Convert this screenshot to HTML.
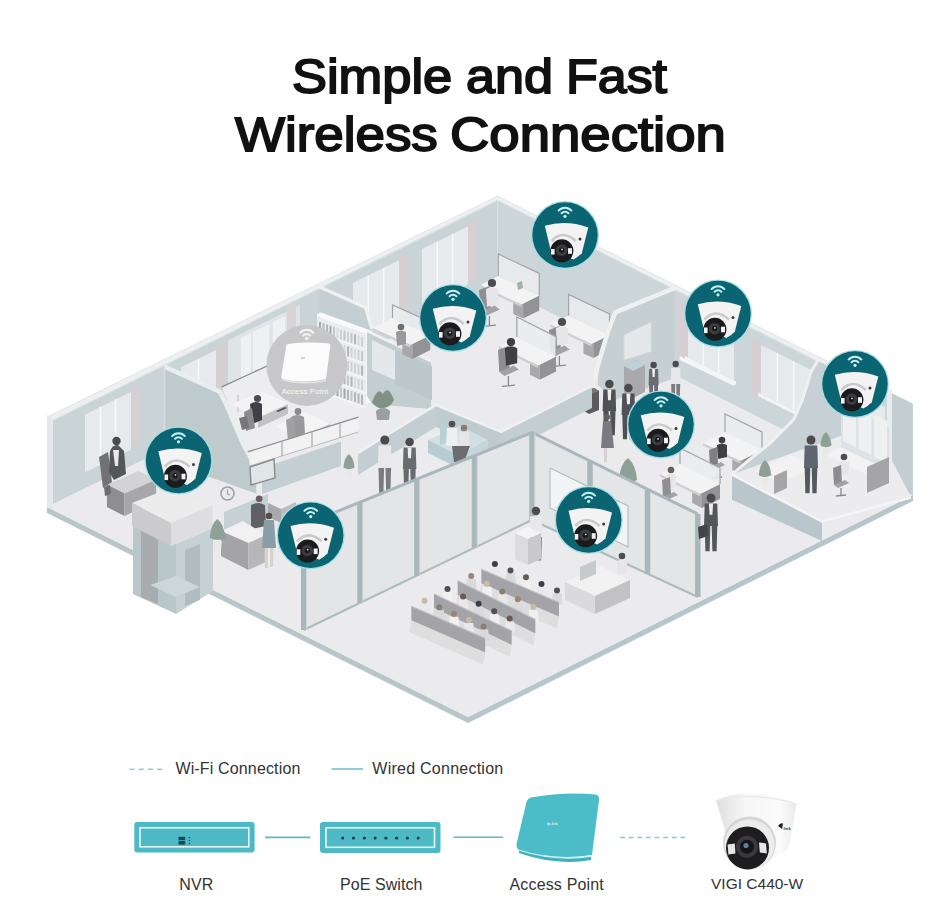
<!DOCTYPE html>
<html><head><meta charset="utf-8">
<style>
html,body{margin:0;padding:0;background:#fff;}
body{width:951px;height:922px;position:relative;overflow:hidden;font-family:"Liberation Sans",sans-serif;}
.w{position:absolute;color:#111;font-size:48px;line-height:56px;-webkit-text-stroke:1.8px #111;white-space:nowrap;transform-origin:0 0;}
svg{position:absolute;left:0;top:0;}
.lab{position:absolute;font-size:15.5px;color:#333;white-space:nowrap;line-height:18px;}
</style></head><body>
<svg width="951" height="922" viewBox="0 0 951 922">
<polygon points="47.0,507.0 468.0,717.0 913.0,495.0 913.0,501.0 468.0,723.0 47.0,513.0" fill="#b8c6c9"/>
<polygon points="47.0,507.0 497.5,286.0 913.0,495.0 468.0,717.0" fill="#ebebee"/>
<polygon points="47.0,417.0 497.5,196.0 497.5,286.0 47.0,507.0" fill="#cad3d6"/>
<polygon points="497.5,196.0 913.0,404.0 913.0,495.0 497.5,286.0" fill="#ccd5d8"/>
<polygon points="85.0,414.4 131.0,391.8 131.0,449.8 85.0,472.4" fill="#e6eaec"/>
<polyline points="100.3,406.8 100.3,464.8" fill="none" stroke="#f7f8f9" stroke-width="1.5"/>
<polyline points="115.7,399.3 115.7,457.3" fill="none" stroke="#f7f8f9" stroke-width="1.5"/>
<polygon points="131.0,389.8 140.0,385.4 140.0,443.4 131.0,447.8" fill="#d6d0d2"/>
<polygon points="181.0,367.3 216.0,350.1 216.0,408.1 181.0,425.3" fill="#e6eaec"/>
<polyline points="198.5,358.7 198.5,416.7" fill="none" stroke="#f7f8f9" stroke-width="1.5"/>
<polygon points="216.0,348.1 225.0,343.7 225.0,401.7 216.0,406.1" fill="#d6d0d2"/>
<polygon points="239.0,338.8 286.0,315.8 286.0,373.8 239.0,396.8" fill="#e6eaec"/>
<polyline points="254.7,331.1 254.7,389.1" fill="none" stroke="#f7f8f9" stroke-width="1.5"/>
<polyline points="270.3,323.4 270.3,381.4" fill="none" stroke="#f7f8f9" stroke-width="1.5"/>
<polygon points="286.0,313.8 295.0,309.3 295.0,367.3 286.0,371.8" fill="#d6d0d2"/>
<polygon points="353.0,282.9 399.0,260.3 399.0,318.3 353.0,340.9" fill="#e6eaec"/>
<polyline points="368.3,275.4 368.3,333.4" fill="none" stroke="#f7f8f9" stroke-width="1.5"/>
<polyline points="383.7,267.8 383.7,325.8" fill="none" stroke="#f7f8f9" stroke-width="1.5"/>
<polygon points="399.0,258.3 408.0,253.9 408.0,311.9 399.0,316.3" fill="#d6d0d2"/>
<polygon points="422.0,249.0 468.0,226.5 468.0,284.5 422.0,307.0" fill="#e6eaec"/>
<polyline points="437.3,241.5 437.3,299.5" fill="none" stroke="#f7f8f9" stroke-width="1.5"/>
<polyline points="452.7,234.0 452.7,292.0" fill="none" stroke="#f7f8f9" stroke-width="1.5"/>
<polygon points="468.0,224.5 477.0,220.1 477.0,278.1 468.0,282.5" fill="#d6d0d2"/>
<polygon points="688.0,308.4 734.0,331.4 734.0,380.4 688.0,357.4" fill="#e6eaec"/>
<polyline points="703.3,316.0 703.3,365.0" fill="none" stroke="#f7f8f9" stroke-width="1.5"/>
<polyline points="718.7,323.7 718.7,372.7" fill="none" stroke="#f7f8f9" stroke-width="1.5"/>
<polygon points="678.0,300.4 688.0,305.4 688.0,361.4 678.0,356.4" fill="#d6d0d2"/>
<polygon points="685.0,355.9 736.0,381.4 736.0,384.9 685.0,359.4" fill="#f3f4f5"/>
<polygon points="761.0,344.9 810.0,369.4 810.0,418.4 761.0,393.9" fill="#e6eaec"/>
<polyline points="777.3,353.1 777.3,402.1" fill="none" stroke="#f7f8f9" stroke-width="1.5"/>
<polyline points="793.7,361.3 793.7,410.3" fill="none" stroke="#f7f8f9" stroke-width="1.5"/>
<polygon points="751.0,336.9 761.0,341.9 761.0,397.9 751.0,392.9" fill="#d6d0d2"/>
<polygon points="758.0,392.4 812.0,419.4 812.0,422.9 758.0,395.9" fill="#f3f4f5"/>
<polygon points="840.0,384.5 885.0,407.0 885.0,456.0 840.0,433.5" fill="#e6eaec"/>
<polyline points="855.0,392.0 855.0,441.0" fill="none" stroke="#f7f8f9" stroke-width="1.5"/>
<polyline points="870.0,399.5 870.0,448.5" fill="none" stroke="#f7f8f9" stroke-width="1.5"/>
<polygon points="830.0,376.5 840.0,381.5 840.0,437.5 830.0,432.5" fill="#d6d0d2"/>
<polygon points="837.0,432.0 887.0,457.0 887.0,460.5 837.0,435.5" fill="#f3f4f5"/>
<polygon points="47.0,417.0 497.5,196.0 913.0,404.0 913.0,409.0 497.5,200.0 51.0,421.0" fill="#edf0f1"/>
<polyline points="51.0,421.5 497.5,200.5 913.0,409.5" fill="none" stroke="#dde3e5" stroke-width="1"/>
<polyline points="47.0,417.0 497.5,196.0 913.0,404.0" fill="none" stroke="#e2e6e8" stroke-width="0.8"/>
<polygon points="47.0,415.0 53.0,418.0 53.0,510.0 47.0,507.0" fill="#e3e8ea"/>
<polygon points="889.0,392.0 913.0,404.0 913.0,495.0 889.0,484.0" fill="#c3ced2"/>
<polygon points="887.0,391.0 892.0,389.0 892.0,485.0 887.0,487.0" fill="#e8eced"/>
<polygon points="106.9,484.5 138.4,471.0 156.1,479.8 124.5,493.4" fill="#d3d3d5"/>
<polygon points="106.9,484.5 124.5,493.4 124.5,516.0 106.9,507.0" fill="#8e8e91"/>
<polygon points="124.5,493.4 156.1,479.8 156.1,501.0 124.5,516.0" fill="#a7a7aa"/>
<polygon points="99.0,457.0 108.0,452.0 112.0,482.0 103.0,488.0" fill="#727276"/>
<path d="M110,451 Q113,444 118,445 L124,451 L126,474 L114,480 L109,472 Z" fill="#55565a"/>
<circle cx="116.5" cy="441.0" r="4.2" fill="#4a4a4d"/>
<polygon points="113.0,450.0 119.0,450.0 118.0,466.0 115.0,466.0" fill="#e8e8ea"/>
<polygon points="104.0,487.0 110.0,485.0 111.0,494.0 105.0,496.0" fill="#6e6e72"/>
<polygon points="164.4,366.6 219.8,391.6 226.0,404.0 235.0,425.0 244.0,446.0 253.0,461.5 256.3,469.0 256.3,493.6 164.4,461.0" fill="#bfcacd"/>
<polyline points="164.4,366.6 219.8,391.6 226.0,404.0 235.0,425.0 244.0,446.0 253.0,461.5 256.3,469.0" fill="none" stroke="#e9edee" stroke-width="4.5"/>
<polyline points="164.4,366.6 164.4,457.0" fill="none" stroke="#d7dfe2" stroke-width="1.5"/>
<polygon points="133.0,526.0 176.0,544.0 176.0,614.0 133.0,594.0" fill="#b9c6ca"/>
<polygon points="176.0,544.0 213.0,528.0 213.0,591.0 176.0,614.0" fill="#c6d1d4"/>
<polygon points="141.0,529.0 158.0,536.0 158.0,604.0 141.0,597.0" fill="#a9acae"/>
<polygon points="185.0,550.0 200.0,544.0 200.0,600.0 185.0,606.0" fill="#b0bcc0"/>
<polygon points="150.0,585.0 176.0,597.0 200.0,587.0 176.0,576.0" fill="#cdd6d9"/>
<polygon points="132.0,503.0 168.0,489.0 212.5,505.0 171.0,523.0" fill="#ececed"/>
<polygon points="132.0,503.0 171.0,523.0 171.0,546.0 132.0,526.0" fill="#cbcbcd"/>
<polygon points="171.0,523.0 212.5,505.0 212.5,528.0 171.0,546.0" fill="#dedee0"/>
<polygon points="228.0,340.2 300.0,304.9 300.0,370.9 228.0,406.2" fill="#dfe4e6"/>
<polygon points="240.8,337.9 251.2,332.8 251.2,388.8 240.8,393.9" fill="#eef0f1"/>
<polygon points="252.8,332.0 269.2,324.0 269.2,380.0 252.8,388.0" fill="#eef0f1"/>
<polygon points="272.8,322.2 285.2,316.1 285.2,372.1 272.8,378.2" fill="#eef0f1"/>
<polygon points="287.0,307.3 296.0,302.8 296.0,374.8 287.0,379.3" fill="#d8d2d4"/>
<polygon points="222.0,388.0 300.0,352.0 372.0,384.0 358.0,417.0 248.0,452.0" fill="#ededef"/>
<polyline points="221.7,386.8 269.4,365.0 300.0,352.0" fill="none" stroke="#8d8d90" stroke-width="1.3"/>
<polyline points="238.0,412.0 238.0,395.0" fill="none" stroke="#b5b5b8" stroke-width="1"/>
<polygon points="232.0,404.0 262.0,391.0 288.0,404.0 258.0,418.0" fill="#f4f4f5"/>
<polygon points="258.0,418.0 288.0,404.0 288.0,414.0 258.0,428.0" fill="#c3c3c6"/>
<polygon points="275.0,426.0 305.0,412.0 330.0,424.0 300.0,438.0" fill="#f4f4f5"/>
<polygon points="300.0,438.0 330.0,424.0 330.0,433.0 300.0,447.0" fill="#c3c3c6"/>
<circle cx="257.5" cy="398.5" r="3.6" fill="#4c4c50"/>
<path d="M250,404 Q256,400 262,404 L262,420 L252,424 Z" fill="#3f4044"/>
<polygon points="244.0,412.0 252.0,408.0 255.0,428.0 246.0,431.0" fill="#8c8c90"/>
<polygon points="239.0,418.0 247.0,416.0 249.0,428.0 242.0,430.0" fill="#77777b"/>
<circle cx="298.0" cy="411.5" r="3.4" fill="#8a8a8d"/>
<path d="M291,417 Q297,413 304,417 L305,433 L294,438 Z" fill="#99999c"/>
<polygon points="286.0,420.0 294.0,416.0 296.0,438.0 288.0,441.0" fill="#a0a0a3"/>
<polygon points="276.0,411.0 285.0,407.0 287.0,408.0 278.0,412.0" fill="#555"/>
<polygon points="247.7,451.8 358.4,417.1 358.4,432.0 250.0,466.0" fill="#f2f2f3"/>
<polyline points="247.7,451.8 358.4,417.1" fill="none" stroke="#8f8f92" stroke-width="1.3"/>
<polyline points="250.0,466.0 358.4,432.0" fill="none" stroke="#b9b9bc" stroke-width="1"/>
<polyline points="282.0,441.0 282.0,456.0" fill="none" stroke="#a9a9ac" stroke-width="1.2"/>
<polyline points="312.0,431.6 312.0,446.6" fill="none" stroke="#a9a9ac" stroke-width="1.2"/>
<polyline points="340.0,422.9 340.0,437.9" fill="none" stroke="#a9a9ac" stroke-width="1.2"/>
<polygon points="262.0,468.0 341.0,441.5 341.0,466.0 262.0,494.0" fill="#c4cfd3"/>
<polygon points="250.0,467.0 274.0,459.0 275.0,478.0 251.0,485.0" fill="#dfe6e8"/>
<polyline points="250.0,467.0 274.0,459.0 275.0,478.0 251.0,485.0 250.0,467.0" fill="none" stroke="#8a8a8e" stroke-width="1.4"/>
<polygon points="319.6,288.0 365.6,308.5 372.0,330.0 372.0,390.0 319.6,365.0" fill="#c5cfd3"/>
<polyline points="319.6,287.0 365.6,307.5 372.0,329.0" fill="none" stroke="#eef1f2" stroke-width="3.5"/>
<polygon points="317.0,314.0 321.0,312.5 372.0,331.0 366.0,334.0 317.0,317.0" fill="#fafafa"/>
<polygon points="317.0,317.0 366.0,334.0 366.0,404.0 317.0,390.0" fill="#eaecee"/>
<polygon points="366.0,334.0 372.0,331.0 372.0,402.0 366.0,404.0" fill="#f6f7f8"/>
<polyline points="320.0,322.1 320.0,332.1" fill="none" stroke="#a4a8ac" stroke-width="2"/>
<polyline points="323.5,323.3 323.5,333.3" fill="none" stroke="#b2b6ba" stroke-width="2"/>
<polyline points="327.0,324.5 327.0,334.5" fill="none" stroke="#b2b6ba" stroke-width="2"/>
<polyline points="330.5,325.7 330.5,335.7" fill="none" stroke="#a4a8ac" stroke-width="2"/>
<polyline points="334.0,326.9 334.0,336.9" fill="none" stroke="#c4c7ca" stroke-width="2"/>
<polyline points="337.5,328.2 337.5,338.2" fill="none" stroke="#d8dadc" stroke-width="2"/>
<polyline points="341.0,329.4 341.0,339.4" fill="none" stroke="#d0d2d5" stroke-width="2"/>
<polyline points="344.5,330.6 344.5,340.6" fill="none" stroke="#c4c7ca" stroke-width="2"/>
<polyline points="348.0,331.9 348.0,341.9" fill="none" stroke="#d0d2d5" stroke-width="2"/>
<polyline points="351.5,333.1 351.5,343.1" fill="none" stroke="#c4c7ca" stroke-width="2"/>
<polyline points="355.0,334.3 355.0,344.3" fill="none" stroke="#b2b6ba" stroke-width="2"/>
<polyline points="358.5,335.5 358.5,345.5" fill="none" stroke="#d8dadc" stroke-width="2"/>
<polyline points="362.0,336.8 362.0,346.8" fill="none" stroke="#d0d2d5" stroke-width="2"/>
<polyline points="317.0,332.5 366.0,349.5" fill="none" stroke="#f4f5f6" stroke-width="1.5"/>
<polyline points="320.0,336.6 320.0,346.6" fill="none" stroke="#d8dadc" stroke-width="2"/>
<polyline points="323.5,337.8 323.5,347.8" fill="none" stroke="#a4a8ac" stroke-width="2"/>
<polyline points="327.0,339.0 327.0,349.0" fill="none" stroke="#c4c7ca" stroke-width="2"/>
<polyline points="330.5,340.2 330.5,350.2" fill="none" stroke="#a4a8ac" stroke-width="2"/>
<polyline points="334.0,341.4 334.0,351.4" fill="none" stroke="#d0d2d5" stroke-width="2"/>
<polyline points="337.5,342.7 337.5,352.7" fill="none" stroke="#c4c7ca" stroke-width="2"/>
<polyline points="341.0,343.9 341.0,353.9" fill="none" stroke="#d0d2d5" stroke-width="2"/>
<polyline points="344.5,345.1 344.5,355.1" fill="none" stroke="#d8dadc" stroke-width="2"/>
<polyline points="348.0,346.4 348.0,356.4" fill="none" stroke="#b2b6ba" stroke-width="2"/>
<polyline points="351.5,347.6 351.5,357.6" fill="none" stroke="#d0d2d5" stroke-width="2"/>
<polyline points="355.0,348.8 355.0,358.8" fill="none" stroke="#d8dadc" stroke-width="2"/>
<polyline points="358.5,350.0 358.5,360.0" fill="none" stroke="#d0d2d5" stroke-width="2"/>
<polyline points="362.0,351.2 362.0,361.2" fill="none" stroke="#c4c7ca" stroke-width="2"/>
<polyline points="317.0,347.0 366.0,364.0" fill="none" stroke="#f4f5f6" stroke-width="1.5"/>
<polyline points="320.0,351.1 320.0,361.1" fill="none" stroke="#d0d2d5" stroke-width="2"/>
<polyline points="323.5,352.3 323.5,362.3" fill="none" stroke="#a4a8ac" stroke-width="2"/>
<polyline points="327.0,353.5 327.0,363.5" fill="none" stroke="#a4a8ac" stroke-width="2"/>
<polyline points="330.5,354.7 330.5,364.7" fill="none" stroke="#d8dadc" stroke-width="2"/>
<polyline points="334.0,355.9 334.0,365.9" fill="none" stroke="#d0d2d5" stroke-width="2"/>
<polyline points="337.5,357.2 337.5,367.2" fill="none" stroke="#d0d2d5" stroke-width="2"/>
<polyline points="341.0,358.4 341.0,368.4" fill="none" stroke="#c4c7ca" stroke-width="2"/>
<polyline points="344.5,359.6 344.5,369.6" fill="none" stroke="#c4c7ca" stroke-width="2"/>
<polyline points="348.0,360.9 348.0,370.9" fill="none" stroke="#d0d2d5" stroke-width="2"/>
<polyline points="351.5,362.1 351.5,372.1" fill="none" stroke="#d0d2d5" stroke-width="2"/>
<polyline points="355.0,363.3 355.0,373.3" fill="none" stroke="#d0d2d5" stroke-width="2"/>
<polyline points="358.5,364.5 358.5,374.5" fill="none" stroke="#d0d2d5" stroke-width="2"/>
<polyline points="362.0,365.8 362.0,375.8" fill="none" stroke="#b2b6ba" stroke-width="2"/>
<polyline points="317.0,361.5 366.0,378.5" fill="none" stroke="#f4f5f6" stroke-width="1.5"/>
<polyline points="320.0,365.6 320.0,375.6" fill="none" stroke="#b2b6ba" stroke-width="2"/>
<polyline points="323.5,366.8 323.5,376.8" fill="none" stroke="#d0d2d5" stroke-width="2"/>
<polyline points="327.0,368.0 327.0,378.0" fill="none" stroke="#a4a8ac" stroke-width="2"/>
<polyline points="330.5,369.2 330.5,379.2" fill="none" stroke="#d0d2d5" stroke-width="2"/>
<polyline points="334.0,370.4 334.0,380.4" fill="none" stroke="#d0d2d5" stroke-width="2"/>
<polyline points="337.5,371.7 337.5,381.7" fill="none" stroke="#d0d2d5" stroke-width="2"/>
<polyline points="341.0,372.9 341.0,382.9" fill="none" stroke="#d8dadc" stroke-width="2"/>
<polyline points="344.5,374.1 344.5,384.1" fill="none" stroke="#b2b6ba" stroke-width="2"/>
<polyline points="348.0,375.4 348.0,385.4" fill="none" stroke="#c4c7ca" stroke-width="2"/>
<polyline points="351.5,376.6 351.5,386.6" fill="none" stroke="#b2b6ba" stroke-width="2"/>
<polyline points="355.0,377.8 355.0,387.8" fill="none" stroke="#d8dadc" stroke-width="2"/>
<polyline points="358.5,379.0 358.5,389.0" fill="none" stroke="#d0d2d5" stroke-width="2"/>
<polyline points="362.0,380.2 362.0,390.2" fill="none" stroke="#d0d2d5" stroke-width="2"/>
<polyline points="317.0,376.0 366.0,393.0" fill="none" stroke="#f4f5f6" stroke-width="1.5"/>
<polyline points="320.0,380.1 320.0,390.1" fill="none" stroke="#b2b6ba" stroke-width="2"/>
<polyline points="323.5,381.3 323.5,391.3" fill="none" stroke="#c4c7ca" stroke-width="2"/>
<polyline points="327.0,382.5 327.0,392.5" fill="none" stroke="#b2b6ba" stroke-width="2"/>
<polyline points="330.5,383.7 330.5,393.7" fill="none" stroke="#b2b6ba" stroke-width="2"/>
<polyline points="334.0,384.9 334.0,394.9" fill="none" stroke="#a4a8ac" stroke-width="2"/>
<polyline points="337.5,386.2 337.5,396.2" fill="none" stroke="#a4a8ac" stroke-width="2"/>
<polyline points="341.0,387.4 341.0,397.4" fill="none" stroke="#c4c7ca" stroke-width="2"/>
<polyline points="344.5,388.6 344.5,398.6" fill="none" stroke="#a4a8ac" stroke-width="2"/>
<polyline points="348.0,389.9 348.0,399.9" fill="none" stroke="#b2b6ba" stroke-width="2"/>
<polyline points="351.5,391.1 351.5,401.1" fill="none" stroke="#c4c7ca" stroke-width="2"/>
<polyline points="355.0,392.3 355.0,402.3" fill="none" stroke="#b2b6ba" stroke-width="2"/>
<polyline points="358.5,393.5 358.5,403.5" fill="none" stroke="#b2b6ba" stroke-width="2"/>
<polyline points="362.0,394.8 362.0,404.8" fill="none" stroke="#b2b6ba" stroke-width="2"/>
<polyline points="317.0,390.5 366.0,407.5" fill="none" stroke="#f4f5f6" stroke-width="1.5"/>
<polygon points="367.0,331.0 431.0,361.0 431.0,409.0 372.0,404.0 367.0,396.0" fill="#c3ced1"/>
<polygon points="372.0,340.0 395.0,351.0 395.0,380.0 372.0,370.0" fill="#e3e8ea"/>
<polyline points="367.0,331.0 431.0,361.0" fill="none" stroke="#eef1f2" stroke-width="3"/>
<ellipse cx="383.0" cy="412.0" rx="7.0" ry="4.0" fill="#9aa3a0"/>
<polygon points="376.0,411.0 390.0,411.0 389.0,420.0 377.0,420.0" fill="#9aa0a2"/>
<path d="M372,402 Q378,386 383,394 Q388,384 394,400 Q390,408 383,408 Q376,409 372,402 Z" fill="#7f9283"/>
<polygon points="395.3,349.8 432.0,366.0 432.0,400.0 395.3,384.0" fill="#bcc8cc"/>
<polygon points="402.3,339.5 412.3,344.0 412.3,359.0 402.3,354.5" fill="#a9a9ac"/>
<polygon points="412.3,344.0 430.3,335.0 430.3,350.0 412.3,359.0" fill="#939397"/>
<polygon points="392.5,318.0 430.3,335.0 410.3,345.0 372.5,328.0" fill="#f3f3f4"/>
<polygon points="372.5,328.0 410.3,345.0 410.3,347.5 372.5,330.5" fill="#cfcfd2"/>
<polygon points="392.5,305.0 430.3,322.0 430.3,335.0 392.5,318.0" fill="#e9ecee" opacity="0.92"/>
<polyline points="392.5,318.0 392.5,305.0 430.3,322.0 430.3,335.0" fill="none" stroke="#a3a4a7" stroke-width="1.2"/>
<circle cx="401.0" cy="327.0" r="3.3" fill="#6f6f72"/>
<path d="M396.0,332.0 Q401.0,329.0 406.0,332.0 L406.0,344.0 L397.0,346.0 Z" fill="#9a9a9d"/>
<polygon points="513.2,298.9 523.1,303.6 523.1,318.6 513.2,313.9" fill="#a9a9ac"/>
<polygon points="523.1,303.6 539.3,295.5 539.3,310.5 523.1,318.6" fill="#939397"/>
<polygon points="498.3,276.0 539.3,295.5 521.3,304.5 480.3,285.0" fill="#f3f3f4"/>
<polygon points="480.3,285.0 521.3,304.5 521.3,307.0 480.3,287.5" fill="#cfcfd2"/>
<polygon points="498.3,254.0 539.3,273.5 539.3,295.5 498.3,276.0" fill="#e9ecee" opacity="0.92"/>
<polyline points="498.3,276.0 498.3,254.0 539.3,273.5 539.3,295.5" fill="none" stroke="#a3a4a7" stroke-width="1.2"/>
<polygon points="479.0,290.0 489.4,286.1 490.7,308.2 480.3,312.1" fill="#8e8e92"/>
<polygon points="480.3,312.1 494.6,305.6 499.8,309.5 485.5,316.0" fill="#a2a2a5"/>
<polyline points="489.4,316.0 489.4,325.1" fill="none" stroke="#8a8a8d" stroke-width="1.3"/>
<polyline points="482.9,326.4 495.9,325.1" fill="none" stroke="#8a8a8d" stroke-width="1.3"/>
<circle cx="492.0" cy="283.0" r="4.1" fill="#4d4d50"/>
<path d="M485.8,289.2 Q492.0,285.5 498.2,289.2 L498.2,304.2 L487.0,306.8 Z" fill="#e6e6e8"/>
<polygon points="517.0,283.0 522.0,281.0 523.0,288.0 518.0,290.0" fill="#a2b1a6"/>
<polygon points="583.4,338.4 593.3,343.1 593.3,358.1 583.4,353.4" fill="#a9a9ac"/>
<polygon points="593.3,343.1 609.5,335.0 609.5,350.0 593.3,358.1" fill="#939397"/>
<polygon points="568.6,315.5 609.5,335.0 591.5,344.0 550.6,324.5" fill="#f3f3f4"/>
<polygon points="550.6,324.5 591.5,344.0 591.5,346.5 550.6,327.0" fill="#cfcfd2"/>
<polygon points="568.6,294.5 609.5,314.0 609.5,335.0 568.6,315.5" fill="#e9ecee" opacity="0.92"/>
<polyline points="568.6,315.5 568.6,294.5 609.5,314.0 609.5,335.0" fill="none" stroke="#a3a4a7" stroke-width="1.2"/>
<polygon points="549.0,330.0 559.4,326.1 560.7,348.2 550.3,352.1" fill="#8e8e92"/>
<polygon points="550.3,352.1 564.6,345.6 569.8,349.5 555.5,356.0" fill="#a2a2a5"/>
<polyline points="559.4,356.0 559.4,365.1" fill="none" stroke="#8a8a8d" stroke-width="1.3"/>
<polyline points="552.9,366.4 565.9,365.1" fill="none" stroke="#8a8a8d" stroke-width="1.3"/>
<circle cx="562.0" cy="322.0" r="4.1" fill="#4d4d50"/>
<path d="M555.8,328.2 Q562.0,324.5 568.2,328.2 L568.2,343.2 L557.0,345.8 Z" fill="#e6e6e8"/>
<polygon points="530.0,359.8 539.8,364.7 539.8,379.7 530.0,374.8" fill="#a9a9ac"/>
<polygon points="539.8,364.7 556.0,356.6 556.0,371.6 539.8,379.7" fill="#939397"/>
<polygon points="516.8,337.0 556.0,356.6 538.0,365.6 498.8,346.0" fill="#f3f3f4"/>
<polygon points="498.8,346.0 538.0,365.6 538.0,368.1 498.8,348.5" fill="#cfcfd2"/>
<polygon points="516.8,317.0 556.0,336.6 556.0,356.6 516.8,337.0" fill="#e9ecee" opacity="0.92"/>
<polyline points="516.8,337.0 516.8,317.0 556.0,336.6 556.0,356.6" fill="none" stroke="#a3a4a7" stroke-width="1.2"/>
<polygon points="498.0,350.0 508.4,346.1 509.7,368.2 499.3,372.1" fill="#8e8e92"/>
<polygon points="499.3,372.1 513.6,365.6 518.8,369.5 504.5,376.0" fill="#a2a2a5"/>
<polyline points="508.4,376.0 508.4,385.1" fill="none" stroke="#8a8a8d" stroke-width="1.3"/>
<polyline points="501.9,386.4 514.9,385.1" fill="none" stroke="#8a8a8d" stroke-width="1.3"/>
<circle cx="511.0" cy="342.0" r="4.1" fill="#3f4044"/>
<path d="M504.8,348.2 Q511.0,344.5 517.2,348.2 L517.2,363.2 L506.0,365.8 Z" fill="#3f4044"/>
<polygon points="615.4,312.3 673.2,288.3 674.6,289.0 674.6,378.0 615.0,400.0 598.0,385.0 597.0,368.7 602.7,349.0 608.3,330.6" fill="#c6d0d3"/>
<polyline points="674.6,288.0 615.4,312.3 608.3,330.6 602.7,349.0 597.0,368.7 595.0,380.0" fill="none" stroke="#eef1f2" stroke-width="4.5"/>
<polygon points="623.8,334.9 651.4,321.5 651.4,351.8 623.8,360.3" fill="#e5e8ea"/>
<polyline points="623.8,334.9 651.4,321.5 651.4,351.8 623.8,360.3 623.8,334.9" fill="none" stroke="#cfd4d6" stroke-width="1"/>
<polygon points="584.0,392.0 594.0,388.0 599.0,391.0 599.0,410.0 589.0,414.0 584.0,411.0" fill="#5b5b5e"/>
<polygon points="584.0,392.0 594.0,388.0 599.0,391.0 589.0,395.0" fill="#77777a"/>
<polygon points="624.0,366.0 636.0,360.0 645.0,365.0 645.0,392.0 633.0,398.0 624.0,393.0" fill="#a9a9ac"/>
<polygon points="624.0,366.0 636.0,360.0 645.0,365.0 633.0,371.0" fill="#bcd1d8"/>
<circle cx="609.4" cy="384.0" r="4.3" fill="#4b4b4f"/>
<polygon points="603.3,389.4 615.5,389.4 616.1,411.0 602.6,411.0" fill="#505156"/>
<polygon points="607.4,389.4 611.4,389.4 610.8,400.2 608.0,400.2" fill="#eeeeee"/>
<polygon points="603.3,411.0 608.7,411.0 608.0,435.3 604.0,435.3" fill="#505156"/>
<polygon points="610.1,411.0 615.5,411.0 614.8,435.3 610.8,435.3" fill="#505156"/>
<circle cx="628.4" cy="388.0" r="4.3" fill="#4b4b4f"/>
<polygon points="622.3,393.4 634.5,393.4 635.1,415.0 621.6,415.0" fill="#505156"/>
<polygon points="626.4,393.4 630.4,393.4 629.8,404.2 627.0,404.2" fill="#eeeeee"/>
<polygon points="622.3,415.0 627.7,415.0 627.0,439.3 623.0,439.3" fill="#505156"/>
<polygon points="629.1,415.0 634.5,415.0 633.8,439.3 629.8,439.3" fill="#505156"/>
<circle cx="653.6" cy="365.0" r="3.2" fill="#4b4b4f"/>
<polygon points="649.1,369.0 658.1,369.0 658.6,385.0 648.6,385.0" fill="#6a6b70"/>
<polygon points="652.1,369.0 655.1,369.0 654.6,377.0 652.6,377.0" fill="#eeeeee"/>
<polygon points="649.1,385.0 653.1,385.0 652.6,403.0 649.6,403.0" fill="#6a6b70"/>
<polygon points="654.1,385.0 658.1,385.0 657.6,403.0 654.6,403.0" fill="#6a6b70"/>
<circle cx="675.7" cy="364.0" r="3.2" fill="#4b4b4f"/>
<polygon points="671.2,368.0 680.2,368.0 680.7,384.0 670.7,384.0" fill="#e8e8ea"/>
<polygon points="671.2,384.0 675.2,384.0 674.7,402.0 671.7,402.0" fill="#7c7c80"/>
<polygon points="676.2,384.0 680.2,384.0 679.7,402.0 676.7,402.0" fill="#7c7c80"/>
<circle cx="607.0" cy="417.0" r="3.0" fill="#6a5f5a"/>
<polygon points="603.0,421.0 611.0,421.0 614.0,448.0 601.0,448.0" fill="#7a7b80"/>
<polygon points="604.0,448.0 607.0,448.0 607.0,462.0 604.0,462.0" fill="#d8d2cc"/>
<polygon points="732.3,455.1 742.2,459.9 742.2,474.9 732.3,470.1" fill="#a9a9ac"/>
<polygon points="742.2,459.9 762.0,450.0 762.0,465.0 742.2,474.9" fill="#939397"/>
<polygon points="725.0,432.0 762.0,450.0 740.0,461.0 703.0,443.0" fill="#f3f3f4"/>
<polygon points="703.0,443.0 740.0,461.0 740.0,463.5 703.0,445.5" fill="#cfcfd2"/>
<polygon points="725.0,414.0 762.0,432.0 762.0,450.0 725.0,432.0" fill="#e9ecee" opacity="0.92"/>
<polyline points="725.0,432.0 725.0,414.0 762.0,432.0 762.0,450.0" fill="none" stroke="#a3a4a7" stroke-width="1.2"/>
<circle cx="722.0" cy="440.0" r="3.3" fill="#3f4044"/>
<path d="M717.0,445.0 Q722.0,442.0 727.0,445.0 L727.0,457.0 L718.0,459.0 Z" fill="#3f4044"/>
<polygon points="709.0,450.0 717.0,447.0 718.0,464.0 710.0,467.0" fill="#808084"/>
<polygon points="710.0,467.0 721.0,462.0 725.0,465.0 714.0,470.0" fill="#a2a2a5"/>
<polyline points="717.0,470.0 717.0,477.0" fill="none" stroke="#8a8a8d" stroke-width="1.3"/>
<polyline points="712.0,478.0 722.0,477.0" fill="none" stroke="#8a8a8d" stroke-width="1.3"/>
<polygon points="692.2,488.1 702.0,493.0 702.0,508.0 692.2,503.1" fill="#a9a9ac"/>
<polygon points="702.0,493.0 720.0,484.0 720.0,499.0 702.0,508.0" fill="#939397"/>
<polygon points="680.0,464.0 720.0,484.0 700.0,494.0 660.0,474.0" fill="#f3f3f4"/>
<polygon points="660.0,474.0 700.0,494.0 700.0,496.5 660.0,476.5" fill="#cfcfd2"/>
<polygon points="680.0,448.0 720.0,468.0 720.0,484.0 680.0,464.0" fill="#e9ecee" opacity="0.92"/>
<polyline points="680.0,464.0 680.0,448.0 720.0,468.0 720.0,484.0" fill="none" stroke="#a3a4a7" stroke-width="1.2"/>
<circle cx="671.0" cy="470.0" r="3.3" fill="#6a5f5a"/>
<path d="M666.0,475.0 Q671.0,472.0 676.0,475.0 L676.0,487.0 L667.0,489.0 Z" fill="#e6e6e8"/>
<polygon points="662.0,480.0 670.0,477.0 671.0,494.0 663.0,497.0" fill="#909094"/>
<polygon points="663.0,497.0 674.0,492.0 678.0,495.0 667.0,500.0" fill="#a2a2a5"/>
<polyline points="670.0,500.0 670.0,507.0" fill="none" stroke="#8a8a8d" stroke-width="1.3"/>
<polyline points="665.0,508.0 675.0,507.0" fill="none" stroke="#8a8a8d" stroke-width="1.3"/>
<polygon points="622.8,484.0 633.2,484.0 632.3,494.4 623.7,494.4" fill="#e9e9ea"/>
<path d="M618.9,480.1 Q620.2,463.2 628.0,458.0 Q635.8,464.5 637.1,480.1 Q628.0,485.3 618.9,480.1 Z" fill="#8fa197"/>
<polygon points="679.7,356.0 734.2,382.4 734.2,386.0 679.7,360.0" fill="#f4f5f6"/>
<polygon points="817.6,360.8 841.0,372.0 841.0,436.0 733.0,500.0 733.0,473.6 748.2,460.6 769.9,443.3 793.8,419.4 802.4,399.9 811.1,371.7" fill="#c7d1d5"/>
<polyline points="817.6,360.8 811.1,371.7 802.4,399.9 793.8,419.4 769.9,443.3 748.2,460.6 733.0,473.6" fill="none" stroke="#eef1f2" stroke-width="3"/>
<polygon points="733.0,474.0 841.0,436.0 889.0,455.0 911.0,497.0 822.0,521.0" fill="#ececef"/>
<polygon points="841.0,403.0 889.0,427.0 889.0,485.0 841.0,461.0" fill="#dde3e5"/>
<polygon points="843.0,399.0 856.0,405.5 856.0,447.5 843.0,441.0" fill="#eef0f1"/>
<polygon points="858.5,406.7 871.5,413.2 871.5,455.2 858.5,448.7" fill="#eef0f1"/>
<polygon points="874.0,414.5 887.0,421.0 887.0,463.0 874.0,456.5" fill="#eef0f1"/>
<polygon points="732.0,474.7 822.0,521.4 822.0,541.0 732.0,499.7" fill="#b9c7cc"/>
<polyline points="732.0,474.7 822.0,521.4 911.0,497.5" fill="none" stroke="#f3f5f6" stroke-width="2.5"/>
<polygon points="755.0,471.0 790.0,455.0 815.0,467.0 780.0,483.0" fill="#f2f2f3"/>
<polygon points="774.0,476.0 787.0,470.0 787.0,488.0 774.0,494.0" fill="#a5a5a8"/>
<polygon points="840.0,447.0 880.0,466.0 865.0,474.0 826.0,455.0" fill="#f2f2f3"/>
<polygon points="867.0,467.0 889.0,457.0 889.0,483.0 867.0,493.0" fill="#a5a5a8"/>
<circle cx="811.0" cy="440.0" r="4.5" fill="#4b4b4f"/>
<polygon points="804.7,445.6 817.3,445.6 818.0,468.0 804.0,468.0" fill="#5e6470"/>
<polygon points="804.7,468.0 810.3,468.0 809.6,493.2 805.4,493.2" fill="#55585f"/>
<polygon points="811.7,468.0 817.3,468.0 816.6,493.2 812.4,493.2" fill="#55585f"/>
<circle cx="844.0" cy="457.0" r="3.3" fill="#4d4d50"/>
<path d="M839.0,462.0 Q844.0,459.0 849.0,462.0 L849.0,474.0 L840.0,476.0 Z" fill="#e6e6e8"/>
<polygon points="833.0,468.0 841.0,465.0 842.0,482.0 834.0,485.0" fill="#8d8d91"/>
<polygon points="834.0,485.0 845.0,480.0 849.0,483.0 838.0,488.0" fill="#a2a2a5"/>
<polyline points="841.0,488.0 841.0,495.0" fill="none" stroke="#8a8a8d" stroke-width="1.3"/>
<polyline points="836.0,496.0 846.0,495.0" fill="none" stroke="#8a8a8d" stroke-width="1.3"/>
<polygon points="761.4,478.0 768.6,478.0 768.0,485.2 762.0,485.2" fill="#e9e9ea"/>
<path d="M758.7,475.3 Q759.6,463.6 765.0,460.0 Q770.4,464.5 771.3,475.3 Q765.0,478.9 758.7,475.3 Z" fill="#8fa197"/>
<polygon points="822.8,448.0 829.2,448.0 828.6,454.4 823.4,454.4" fill="#e9e9ea"/>
<path d="M820.4,445.6 Q821.2,435.2 826.0,432.0 Q830.8,436.0 831.6,445.6 Q826.0,448.8 820.4,445.6 Z" fill="#8fa197"/>
<polygon points="358.0,453.0 436.0,405.0 436.0,427.0 358.0,475.0" fill="#c3ced2"/>
<polygon points="436.0,405.0 501.0,432.0 501.0,454.0 436.0,427.0" fill="#bfcbcf"/>
<polygon points="501.0,432.0 592.0,386.0 592.0,408.0 501.0,454.0" fill="#c3ced2"/>
<polyline points="358.0,453.0 436.0,405.0 501.0,432.0 592.0,386.0" fill="none" stroke="#eef1f2" stroke-width="2.5"/>
<polygon points="428.0,440.0 460.0,426.0 488.0,440.0 458.0,455.0" fill="#cfdfe4"/>
<polygon points="428.0,440.0 458.0,455.0 458.0,468.0 428.0,453.0" fill="#b7cdd4"/>
<polygon points="458.0,455.0 488.0,440.0 488.0,452.0 458.0,468.0" fill="#c2d6dc"/>
<polygon points="440.0,425.0 452.0,420.0 452.0,440.0 440.0,445.0" fill="#b9cfd6"/>
<circle cx="452.0" cy="424.0" r="3.3" fill="#5a4c48"/>
<polygon points="447.0,428.0 457.0,428.0 458.0,446.0 446.0,446.0" fill="#eeeeef"/>
<circle cx="464.0" cy="428.0" r="3.3" fill="#8a7d74"/>
<polygon points="459.0,432.0 469.0,432.0 470.0,450.0 458.0,450.0" fill="#e6e6e8"/>
<polygon points="452.0,446.0 470.0,446.0 464.0,462.0 454.0,462.0" fill="#6c6c70"/>
<polygon points="224.0,512.0 268.0,494.0 268.0,522.0 224.0,534.0" fill="#c6d1d5"/>
<polygon points="268.0,503.0 283.0,496.0 296.0,502.0 281.0,509.0" fill="#ececed"/>
<polygon points="268.0,503.0 281.0,509.0 281.0,523.0 268.0,517.0" fill="#a9a9ac"/>
<polygon points="281.0,509.0 296.0,502.0 296.0,516.0 281.0,523.0" fill="#bdbdc0"/>
<circle cx="259.2" cy="498.8" r="3.4" fill="#6a5f5a"/>
<path d="M251,505 Q258,501 265,505 L266,526 L251,529 Z" fill="#606166"/>
<polygon points="221.0,531.0 243.0,521.0 266.0,535.0 248.4,543.0" fill="#f1f1f2"/>
<polygon points="221.0,531.0 248.4,543.0 248.4,570.0 221.0,556.0" fill="#a3a3a6"/>
<polygon points="248.4,543.0 266.0,535.0 266.0,562.0 248.4,570.0" fill="#b7b7ba"/>
<circle cx="269.0" cy="516.0" r="3.3" fill="#5a4c48"/>
<polygon points="264.0,520.0 274.0,520.0 276.0,548.0 262.0,548.0" fill="#8a9ea5"/>
<polygon points="264.5,548.0 268.0,548.0 268.0,568.0 265.0,568.0" fill="#d8d2cc"/>
<polygon points="270.0,548.0 273.5,548.0 273.0,567.0 270.0,567.0" fill="#d8d2cc"/>
<circle cx="227.5" cy="493.5" r="6.5" fill="none" stroke="#9ea3a5" stroke-width="1.6"/>
<polyline points="227.5,489.5 227.5,494.0 230.0,495.0" fill="none" stroke="#9ea3a5" stroke-width="1.2"/>
<polygon points="213.1,541.0 221.9,541.0 221.1,549.8 213.9,549.8" fill="#e9e9ea"/>
<path d="M209.8,537.7 Q210.9,523.4 217.5,519.0 Q224.1,524.5 225.2,537.7 Q217.5,542.1 209.8,537.7 Z" fill="#8fa197"/>
<polygon points="345.8,470.0 352.2,470.0 351.6,476.4 346.4,476.4" fill="#e9e9ea"/>
<path d="M343.4,467.6 Q344.2,457.2 349.0,454.0 Q353.8,458.0 354.6,467.6 Q349.0,470.8 343.4,467.6 Z" fill="#8fa197"/>
<circle cx="384.8" cy="440.0" r="4.5" fill="#4b4b4f"/>
<polygon points="378.5,445.6 391.1,445.6 391.8,468.0 377.8,468.0" fill="#e9e9eb"/>
<polygon points="378.5,468.0 384.1,468.0 383.4,493.2 379.2,493.2" fill="#7c7c80"/>
<polygon points="385.5,468.0 391.1,468.0 390.4,493.2 386.2,493.2" fill="#7c7c80"/>
<circle cx="409.6" cy="442.0" r="4.3" fill="#4b4b4f"/>
<polygon points="403.5,447.4 415.7,447.4 416.4,469.0 402.9,469.0" fill="#6a6b70"/>
<polygon points="407.6,447.4 411.6,447.4 411.0,458.2 408.2,458.2" fill="#eeeeee"/>
<polygon points="403.5,469.0 408.9,469.0 408.2,493.3 404.2,493.3" fill="#6a6b70"/>
<polygon points="410.3,469.0 415.7,469.0 415.0,493.3 411.0,493.3" fill="#6a6b70"/>
<polygon points="303.7,525.0 532.0,432.5 532.0,520.0 303.7,630.0" fill="#e3e5e6"/>
<polygon points="532.0,432.5 697.8,514.0 697.8,597.0 532.0,520.0" fill="#e3e6e7"/>
<polyline points="303.7,525.0 532.0,432.5 697.8,514.0" fill="none" stroke="#aab8bc" stroke-width="3"/>
<polyline points="303.7,630.0 532.0,520.0 697.8,597.0" fill="none" stroke="#aebbbf" stroke-width="2.2"/>
<polyline points="303.7,525.0 303.7,630.0" fill="none" stroke="#a9b6ba" stroke-width="5.5"/>
<polyline points="306.5,525.0 306.5,630.0" fill="none" stroke="#cdd6d9" stroke-width="1"/>
<polyline points="360.0,502.2 360.0,602.9" fill="none" stroke="#a9b6ba" stroke-width="5.5"/>
<polyline points="362.8,502.2 362.8,602.9" fill="none" stroke="#cdd6d9" stroke-width="1"/>
<polyline points="417.0,479.1 417.0,575.4" fill="none" stroke="#a9b6ba" stroke-width="5.5"/>
<polyline points="419.8,479.1 419.8,575.4" fill="none" stroke="#cdd6d9" stroke-width="1"/>
<polyline points="474.5,455.8 474.5,547.7" fill="none" stroke="#a9b6ba" stroke-width="5.5"/>
<polyline points="477.3,455.8 477.3,547.7" fill="none" stroke="#cdd6d9" stroke-width="1"/>
<polyline points="532.0,432.5 532.0,520.0" fill="none" stroke="#a9b6ba" stroke-width="5.5"/>
<polyline points="534.8,432.5 534.8,520.0" fill="none" stroke="#cdd6d9" stroke-width="1"/>
<polyline points="590.0,461.0 590.0,546.9" fill="none" stroke="#a9b6ba" stroke-width="5.5"/>
<polyline points="647.5,489.3 647.5,573.6" fill="none" stroke="#a9b6ba" stroke-width="5.5"/>
<polyline points="697.8,514.0 697.8,597.0" fill="none" stroke="#a9b6ba" stroke-width="5.5"/>
<polygon points="550.0,468.0 628.0,506.0 628.0,547.0 550.0,508.0" fill="#f3f4f5"/>
<polyline points="550.0,468.0 628.0,506.0 628.0,547.0 550.0,508.0 550.0,468.0" fill="none" stroke="#b9bcbf" stroke-width="1.2"/>
<circle cx="536.0" cy="511.0" r="4.2" fill="#4b4b4f"/>
<polygon points="530.1,516.2 541.9,516.2 542.5,537.0 529.5,537.0" fill="#e8e8ea"/>
<polygon points="530.1,537.0 535.4,537.0 534.7,560.4 530.8,560.4" fill="#7c7c80"/>
<polygon points="536.6,537.0 541.9,537.0 541.2,560.4 537.3,560.4" fill="#7c7c80"/>
<polygon points="515.0,533.0 528.0,527.0 541.0,533.0 528.0,539.0" fill="#f4f4f5"/>
<polygon points="515.0,533.0 528.0,539.0 528.0,565.0 515.0,559.0" fill="#dcdcde"/>
<polygon points="528.0,539.0 541.0,533.0 541.0,559.0 528.0,565.0" fill="#c9c9cb"/>
<polygon points="565.0,582.0 600.0,566.0 630.0,580.0 595.0,596.0" fill="#f1f1f2"/>
<polygon points="565.0,582.0 595.0,596.0 595.0,614.0 565.0,600.0" fill="#dadadc"/>
<polygon points="595.0,596.0 630.0,580.0 630.0,598.0 595.0,614.0" fill="#c2c2c5"/>
<polygon points="580.0,567.0 596.0,560.0 596.0,574.0 580.0,581.0" fill="#c7cacc"/>
<circle cx="622.0" cy="556.0" r="3.3" fill="#4d4d50"/>
<path d="M617.0,561.0 Q622.0,558.0 627.0,561.0 L627.0,573.0 L618.0,575.0 Z" fill="#e6e6e8"/>
<polygon points="481.4,583.3 559.0,616.5 557.0,628.5 479.4,595.3" fill="#dededf"/>
<polygon points="490.4,567.0 499.4,567.0 500.4,578.0 490.4,578.0" fill="#e9e9eb"/>
<circle cx="494.9" cy="564.0" r="3.0" fill="#3f3f43"/>
<polygon points="506.0,573.6 515.0,573.6 516.0,584.6 506.0,584.6" fill="#d9dadc"/>
<circle cx="510.5" cy="570.6" r="3.0" fill="#505055"/>
<polygon points="521.5,580.2 530.5,580.2 531.5,591.2 521.5,591.2" fill="#f0f0f1"/>
<circle cx="526.0" cy="577.2" r="3.0" fill="#6b5a50"/>
<polygon points="537.0,586.9 546.0,586.9 547.0,597.9 537.0,597.9" fill="#e9e9eb"/>
<circle cx="541.5" cy="583.9" r="3.0" fill="#3f3f43"/>
<polygon points="552.5,593.5 561.5,593.5 562.5,604.5 552.5,604.5" fill="#d9dadc"/>
<circle cx="557.0" cy="590.5" r="3.0" fill="#505055"/>
<polygon points="481.4,569.3 559.0,602.5 559.0,616.5 481.4,583.3" fill="#a4a4a8"/>
<polyline points="481.4,569.3 559.0,602.5" fill="none" stroke="#bebec1" stroke-width="1.2"/>
<polygon points="457.7,594.7 535.3,633.5 533.3,645.5 455.7,606.7" fill="#dededf"/>
<polygon points="466.7,579.0 475.7,579.0 476.7,590.0 466.7,590.0" fill="#d9dadc"/>
<circle cx="471.2" cy="576.0" r="3.0" fill="#9a8677"/>
<polygon points="482.3,586.7 491.3,586.7 492.3,597.7 482.3,597.7" fill="#f0f0f1"/>
<circle cx="486.8" cy="583.7" r="3.0" fill="#c9b9a9"/>
<polygon points="497.8,594.5 506.8,594.5 507.8,605.5 497.8,605.5" fill="#e9e9eb"/>
<circle cx="502.3" cy="591.5" r="3.0" fill="#8c7d72"/>
<polygon points="513.3,602.2 522.3,602.2 523.3,613.2 513.3,613.2" fill="#d9dadc"/>
<circle cx="517.8" cy="599.2" r="3.0" fill="#9a8677"/>
<polygon points="528.8,610.0 537.8,610.0 538.8,621.0 528.8,621.0" fill="#f0f0f1"/>
<circle cx="533.3" cy="607.0" r="3.0" fill="#c9b9a9"/>
<polygon points="457.7,580.7 535.3,619.5 535.3,633.5 457.7,594.7" fill="#a4a4a8"/>
<polyline points="457.7,580.7 535.3,619.5" fill="none" stroke="#bebec1" stroke-width="1.2"/>
<polygon points="434.0,608.0 511.7,644.9 509.7,656.9 432.0,620.0" fill="#dededf"/>
<polygon points="443.0,592.1 452.0,592.1 453.0,603.1 443.0,603.1" fill="#f0f0f1"/>
<circle cx="447.5" cy="589.1" r="3.0" fill="#505055"/>
<polygon points="458.6,599.4 467.6,599.4 468.6,610.4 458.6,610.4" fill="#e9e9eb"/>
<circle cx="463.1" cy="596.4" r="3.0" fill="#6b5a50"/>
<polygon points="474.1,606.8 483.1,606.8 484.1,617.8 474.1,617.8" fill="#d9dadc"/>
<circle cx="478.6" cy="603.8" r="3.0" fill="#3f3f43"/>
<polygon points="489.7,614.2 498.7,614.2 499.7,625.2 489.7,625.2" fill="#f0f0f1"/>
<circle cx="494.2" cy="611.2" r="3.0" fill="#505055"/>
<polygon points="505.2,621.6 514.2,621.6 515.2,632.6 505.2,632.6" fill="#e9e9eb"/>
<circle cx="509.7" cy="618.6" r="3.0" fill="#6b5a50"/>
<polygon points="434.0,594.0 511.7,630.9 511.7,644.9 434.0,608.0" fill="#a4a4a8"/>
<polyline points="434.0,594.0 511.7,630.9" fill="none" stroke="#bebec1" stroke-width="1.2"/>
<polygon points="411.4,620.3 485.2,652.4 483.2,664.4 409.4,632.3" fill="#dededf"/>
<polygon points="420.0,603.8 429.0,603.8 430.0,614.8 420.0,614.8" fill="#e9e9eb"/>
<circle cx="424.5" cy="600.8" r="3.0" fill="#c9b9a9"/>
<polygon points="434.8,610.3 443.8,610.3 444.8,621.3 434.8,621.3" fill="#d9dadc"/>
<circle cx="439.3" cy="607.3" r="3.0" fill="#8c7d72"/>
<polygon points="449.5,616.7 458.5,616.7 459.5,627.7 449.5,627.7" fill="#f0f0f1"/>
<circle cx="454.0" cy="613.7" r="3.0" fill="#9a8677"/>
<polygon points="464.3,623.1 473.3,623.1 474.3,634.1 464.3,634.1" fill="#e9e9eb"/>
<circle cx="468.8" cy="620.1" r="3.0" fill="#c9b9a9"/>
<polygon points="479.1,629.5 488.1,629.5 489.1,640.5 479.1,640.5" fill="#d9dadc"/>
<circle cx="483.6" cy="626.5" r="3.0" fill="#8c7d72"/>
<polygon points="411.4,606.3 485.2,638.4 485.2,652.4 411.4,620.3" fill="#a4a4a8"/>
<polyline points="411.4,606.3 485.2,638.4" fill="none" stroke="#bebec1" stroke-width="1.2"/>
<circle cx="711.0" cy="498.0" r="4.5" fill="#4b4b4f"/>
<polygon points="704.7,503.6 717.3,503.6 718.0,526.0 704.0,526.0" fill="#55565b"/>
<polygon points="708.9,503.6 713.1,503.6 712.4,514.8 709.6,514.8" fill="#eeeeee"/>
<polygon points="704.7,526.0 710.3,526.0 709.6,551.2 705.4,551.2" fill="#55565b"/>
<polygon points="711.7,526.0 717.3,526.0 716.6,551.2 712.4,551.2" fill="#55565b"/>
<polygon points="698.0,527.0 707.0,524.0 708.0,536.0 699.0,539.0" fill="#444448"/>
<circle cx="306.8" cy="365.5" r="40.4" fill="#c7c7c9"/>
<path d="M288,344 Q308,341.5 329,343.4 Q330.5,344 330.3,346 L326,379 Q304,384 282.2,379 Q281,378 281.3,376 L286.3,346 Q286.6,344.2 288,344 Z" fill="#fbfbfb"/>
<path d="M282.5,380 Q304,385.5 326,380.5" fill="none" stroke="#e4e4e5" stroke-width="1.4"/>
<path d="M301,358 L305,358" fill="none" stroke="#c9c9cb" stroke-width="1.5"/>
<path d="M303.38,335.52 A4.6,4.6 0 0 1 310.22,335.52" fill="none" stroke="#f6f6f6" stroke-width="2.1" stroke-linecap="round"/>
<path d="M300.26,332.71 A8.8,8.8 0 0 1 313.34,332.71" fill="none" stroke="#f6f6f6" stroke-width="2.1" stroke-linecap="round"/>
<circle cx="306.8" cy="338.6" r="1.7" fill="#f6f6f6"/>
<text x="304.8" y="394" font-size="8.1" fill="#f7f7f7" text-anchor="middle" font-family="Liberation Sans">Access Point</text>
<circle cx="565.0" cy="235.0" r="34.0" fill="#a9dde5"/>
<circle cx="565.0" cy="235.0" r="32.7" fill="#0b6471"/>
<path d="M561.58,213.22 A4.6,4.6 0 0 1 568.42,213.22" fill="none" stroke="#c4eff3" stroke-width="2" stroke-linecap="round"/>
<path d="M558.61,210.55 A8.6,8.6 0 0 1 571.39,210.55" fill="none" stroke="#c4eff3" stroke-width="2" stroke-linecap="round"/>
<circle cx="565.0" cy="216.3" r="1.6" fill="#c4eff3"/>
<path d="M544.80,225.80 Q566.00,219.50 588.30,227.50 L581.80,253.20 Q578.00,257.00 573.40,259.50 L550.40,249.00 Z" fill="#f3f3f4"/>
<path d="M551.50,241.00 Q562.50,229.00 576.00,241.00" fill="none" stroke="#c9cacc" stroke-width="2.6"/>
<circle cx="561.9" cy="250.8" r="11.5" fill="#1b1b1d"/>
<circle cx="561.6" cy="250.2" r="5.8" fill="#3c3d41"/>
<circle cx="561.6" cy="250.2" r="2.6" fill="#17171a"/>
<circle cx="562.0" cy="249.4" r="0.9" fill="#cfd3d8"/>
<rect x="551.0" y="249.0" width="3.6" height="5.6" fill="#f0f0f0"/>
<rect x="568.0" y="248.2" width="4" height="5.6" fill="#f0f0f0"/>
<circle cx="580.0" cy="238.9" r="1.5" fill="#38393b"/>
<circle cx="453.0" cy="318.0" r="34.0" fill="#a9dde5"/>
<circle cx="453.0" cy="318.0" r="32.7" fill="#0b6471"/>
<path d="M449.58,296.22 A4.6,4.6 0 0 1 456.42,296.22" fill="none" stroke="#c4eff3" stroke-width="2" stroke-linecap="round"/>
<path d="M446.61,293.55 A8.6,8.6 0 0 1 459.39,293.55" fill="none" stroke="#c4eff3" stroke-width="2" stroke-linecap="round"/>
<circle cx="453.0" cy="299.3" r="1.6" fill="#c4eff3"/>
<path d="M432.80,308.80 Q454.00,302.50 476.30,310.50 L469.80,336.20 Q466.00,340.00 461.40,342.50 L438.40,332.00 Z" fill="#f3f3f4"/>
<path d="M439.50,324.00 Q450.50,312.00 464.00,324.00" fill="none" stroke="#c9cacc" stroke-width="2.6"/>
<circle cx="449.9" cy="333.8" r="11.5" fill="#1b1b1d"/>
<circle cx="449.6" cy="333.2" r="5.8" fill="#3c3d41"/>
<circle cx="449.6" cy="333.2" r="2.6" fill="#17171a"/>
<circle cx="450.0" cy="332.4" r="0.9" fill="#cfd3d8"/>
<rect x="439.0" y="332.0" width="3.6" height="5.6" fill="#f0f0f0"/>
<rect x="456.0" y="331.2" width="4" height="5.6" fill="#f0f0f0"/>
<circle cx="468.0" cy="321.9" r="1.5" fill="#38393b"/>
<circle cx="718.0" cy="313.5" r="34.0" fill="#a9dde5"/>
<circle cx="718.0" cy="313.5" r="32.7" fill="#0b6471"/>
<path d="M714.58,291.72 A4.6,4.6 0 0 1 721.42,291.72" fill="none" stroke="#c4eff3" stroke-width="2" stroke-linecap="round"/>
<path d="M711.61,289.05 A8.6,8.6 0 0 1 724.39,289.05" fill="none" stroke="#c4eff3" stroke-width="2" stroke-linecap="round"/>
<circle cx="718.0" cy="294.8" r="1.6" fill="#c4eff3"/>
<path d="M697.80,304.30 Q719.00,298.00 741.30,306.00 L734.80,331.70 Q731.00,335.50 726.40,338.00 L703.40,327.50 Z" fill="#f3f3f4"/>
<path d="M704.50,319.50 Q715.50,307.50 729.00,319.50" fill="none" stroke="#c9cacc" stroke-width="2.6"/>
<circle cx="714.9" cy="329.3" r="11.5" fill="#1b1b1d"/>
<circle cx="714.6" cy="328.7" r="5.8" fill="#3c3d41"/>
<circle cx="714.6" cy="328.7" r="2.6" fill="#17171a"/>
<circle cx="715.0" cy="327.9" r="0.9" fill="#cfd3d8"/>
<rect x="704.0" y="327.5" width="3.6" height="5.6" fill="#f0f0f0"/>
<rect x="721.0" y="326.7" width="4" height="5.6" fill="#f0f0f0"/>
<circle cx="733.0" cy="317.4" r="1.5" fill="#38393b"/>
<circle cx="855.0" cy="384.0" r="34.0" fill="#a9dde5"/>
<circle cx="855.0" cy="384.0" r="32.7" fill="#0b6471"/>
<path d="M851.58,362.22 A4.6,4.6 0 0 1 858.42,362.22" fill="none" stroke="#c4eff3" stroke-width="2" stroke-linecap="round"/>
<path d="M848.61,359.55 A8.6,8.6 0 0 1 861.39,359.55" fill="none" stroke="#c4eff3" stroke-width="2" stroke-linecap="round"/>
<circle cx="855.0" cy="365.3" r="1.6" fill="#c4eff3"/>
<path d="M834.80,374.80 Q856.00,368.50 878.30,376.50 L871.80,402.20 Q868.00,406.00 863.40,408.50 L840.40,398.00 Z" fill="#f3f3f4"/>
<path d="M841.50,390.00 Q852.50,378.00 866.00,390.00" fill="none" stroke="#c9cacc" stroke-width="2.6"/>
<circle cx="851.9" cy="399.8" r="11.5" fill="#1b1b1d"/>
<circle cx="851.6" cy="399.2" r="5.8" fill="#3c3d41"/>
<circle cx="851.6" cy="399.2" r="2.6" fill="#17171a"/>
<circle cx="852.0" cy="398.4" r="0.9" fill="#cfd3d8"/>
<rect x="841.0" y="398.0" width="3.6" height="5.6" fill="#f0f0f0"/>
<rect x="858.0" y="397.2" width="4" height="5.6" fill="#f0f0f0"/>
<circle cx="870.0" cy="387.9" r="1.5" fill="#38393b"/>
<circle cx="661.0" cy="424.5" r="34.0" fill="#a9dde5"/>
<circle cx="661.0" cy="424.5" r="32.7" fill="#0b6471"/>
<path d="M657.58,402.72 A4.6,4.6 0 0 1 664.42,402.72" fill="none" stroke="#c4eff3" stroke-width="2" stroke-linecap="round"/>
<path d="M654.61,400.05 A8.6,8.6 0 0 1 667.39,400.05" fill="none" stroke="#c4eff3" stroke-width="2" stroke-linecap="round"/>
<circle cx="661.0" cy="405.8" r="1.6" fill="#c4eff3"/>
<path d="M640.80,415.30 Q662.00,409.00 684.30,417.00 L677.80,442.70 Q674.00,446.50 669.40,449.00 L646.40,438.50 Z" fill="#f3f3f4"/>
<path d="M647.50,430.50 Q658.50,418.50 672.00,430.50" fill="none" stroke="#c9cacc" stroke-width="2.6"/>
<circle cx="657.9" cy="440.3" r="11.5" fill="#1b1b1d"/>
<circle cx="657.6" cy="439.7" r="5.8" fill="#3c3d41"/>
<circle cx="657.6" cy="439.7" r="2.6" fill="#17171a"/>
<circle cx="658.0" cy="438.9" r="0.9" fill="#cfd3d8"/>
<rect x="647.0" y="438.5" width="3.6" height="5.6" fill="#f0f0f0"/>
<rect x="664.0" y="437.7" width="4" height="5.6" fill="#f0f0f0"/>
<circle cx="676.0" cy="428.4" r="1.5" fill="#38393b"/>
<circle cx="178.5" cy="460.5" r="34.0" fill="#a9dde5"/>
<circle cx="178.5" cy="460.5" r="32.7" fill="#0b6471"/>
<path d="M175.08,438.72 A4.6,4.6 0 0 1 181.92,438.72" fill="none" stroke="#c4eff3" stroke-width="2" stroke-linecap="round"/>
<path d="M172.11,436.05 A8.6,8.6 0 0 1 184.89,436.05" fill="none" stroke="#c4eff3" stroke-width="2" stroke-linecap="round"/>
<circle cx="178.5" cy="441.8" r="1.6" fill="#c4eff3"/>
<path d="M158.30,451.30 Q179.50,445.00 201.80,453.00 L195.30,478.70 Q191.50,482.50 186.90,485.00 L163.90,474.50 Z" fill="#f3f3f4"/>
<path d="M165.00,466.50 Q176.00,454.50 189.50,466.50" fill="none" stroke="#c9cacc" stroke-width="2.6"/>
<circle cx="175.4" cy="476.3" r="11.5" fill="#1b1b1d"/>
<circle cx="175.1" cy="475.7" r="5.8" fill="#3c3d41"/>
<circle cx="175.1" cy="475.7" r="2.6" fill="#17171a"/>
<circle cx="175.5" cy="474.9" r="0.9" fill="#cfd3d8"/>
<rect x="164.5" y="474.5" width="3.6" height="5.6" fill="#f0f0f0"/>
<rect x="181.5" y="473.7" width="4" height="5.6" fill="#f0f0f0"/>
<circle cx="193.5" cy="464.4" r="1.5" fill="#38393b"/>
<circle cx="310.7" cy="535.3" r="34.0" fill="#a9dde5"/>
<circle cx="310.7" cy="535.3" r="32.7" fill="#0b6471"/>
<path d="M307.28,513.52 A4.6,4.6 0 0 1 314.12,513.52" fill="none" stroke="#c4eff3" stroke-width="2" stroke-linecap="round"/>
<path d="M304.31,510.85 A8.6,8.6 0 0 1 317.09,510.85" fill="none" stroke="#c4eff3" stroke-width="2" stroke-linecap="round"/>
<circle cx="310.7" cy="516.6" r="1.6" fill="#c4eff3"/>
<path d="M290.50,526.10 Q311.70,519.80 334.00,527.80 L327.50,553.50 Q323.70,557.30 319.10,559.80 L296.10,549.30 Z" fill="#f3f3f4"/>
<path d="M297.20,541.30 Q308.20,529.30 321.70,541.30" fill="none" stroke="#c9cacc" stroke-width="2.6"/>
<circle cx="307.6" cy="551.1" r="11.5" fill="#1b1b1d"/>
<circle cx="307.3" cy="550.5" r="5.8" fill="#3c3d41"/>
<circle cx="307.3" cy="550.5" r="2.6" fill="#17171a"/>
<circle cx="307.7" cy="549.7" r="0.9" fill="#cfd3d8"/>
<rect x="296.7" y="549.3" width="3.6" height="5.6" fill="#f0f0f0"/>
<rect x="313.7" y="548.5" width="4" height="5.6" fill="#f0f0f0"/>
<circle cx="325.7" cy="539.2" r="1.5" fill="#38393b"/>
<circle cx="588.7" cy="520.0" r="34.0" fill="#a9dde5"/>
<circle cx="588.7" cy="520.0" r="32.7" fill="#0b6471"/>
<path d="M585.28,498.22 A4.6,4.6 0 0 1 592.12,498.22" fill="none" stroke="#c4eff3" stroke-width="2" stroke-linecap="round"/>
<path d="M582.31,495.55 A8.6,8.6 0 0 1 595.09,495.55" fill="none" stroke="#c4eff3" stroke-width="2" stroke-linecap="round"/>
<circle cx="588.7" cy="501.3" r="1.6" fill="#c4eff3"/>
<path d="M568.50,510.80 Q589.70,504.50 612.00,512.50 L605.50,538.20 Q601.70,542.00 597.10,544.50 L574.10,534.00 Z" fill="#f3f3f4"/>
<path d="M575.20,526.00 Q586.20,514.00 599.70,526.00" fill="none" stroke="#c9cacc" stroke-width="2.6"/>
<circle cx="585.6" cy="535.8" r="11.5" fill="#1b1b1d"/>
<circle cx="585.3" cy="535.2" r="5.8" fill="#3c3d41"/>
<circle cx="585.3" cy="535.2" r="2.6" fill="#17171a"/>
<circle cx="585.7" cy="534.4" r="0.9" fill="#cfd3d8"/>
<rect x="574.7" y="534.0" width="3.6" height="5.6" fill="#f0f0f0"/>
<rect x="591.7" y="533.2" width="4" height="5.6" fill="#f0f0f0"/>
<circle cx="603.7" cy="523.9" r="1.5" fill="#38393b"/>
<line x1="129.5" y1="769.3" x2="134.5" y2="769.3" stroke="#8ccbd3" stroke-width="1.5"/>
<line x1="138.7" y1="769.3" x2="143.7" y2="769.3" stroke="#8ccbd3" stroke-width="1.5"/>
<line x1="147.9" y1="769.3" x2="152.9" y2="769.3" stroke="#8ccbd3" stroke-width="1.5"/>
<line x1="157.1" y1="769.3" x2="162.1" y2="769.3" stroke="#8ccbd3" stroke-width="1.5"/>
<line x1="331.6" y1="768.9" x2="363.1" y2="768.9" stroke="#6cbcc6" stroke-width="1.5"/>
<rect x="134.3" y="822.1" width="120.3" height="30.5" rx="3" fill="#4cb9c5"/>
<rect x="140" y="827.8" width="108.8" height="19" fill="none" stroke="#e9f7f9" stroke-width="1.6"/>
<rect x="178.5" y="836.8" width="6.7" height="3.4" fill="#0d4e58"/>
<rect x="178.5" y="841.0" width="6.7" height="3.6" fill="#0d4e58"/>
<circle cx="189.4" cy="837.5" r="0.8" fill="#0d4e58"/><circle cx="189.4" cy="840.5" r="0.8" fill="#0d4e58"/><circle cx="189.4" cy="843.5" r="0.8" fill="#0d4e58"/>
<line x1="265.1" y1="837.4" x2="310.3" y2="837.4" stroke="#5fb8c2" stroke-width="1.6"/>
<rect x="320" y="822.1" width="120.5" height="30.9" rx="3" fill="#4cb9c5"/>
<rect x="326" y="827.8" width="108.5" height="19.5" fill="none" stroke="#e9f7f9" stroke-width="1.6"/>
<circle cx="342.7" cy="837.9" r="1.5" fill="#0d3c44"/>
<circle cx="353.5" cy="837.9" r="1.5" fill="#0d3c44"/>
<circle cx="364.3" cy="837.9" r="1.5" fill="#0d3c44"/>
<circle cx="375.1" cy="837.9" r="1.5" fill="#0d3c44"/>
<circle cx="385.9" cy="837.9" r="1.5" fill="#0d3c44"/>
<circle cx="396.6" cy="837.9" r="1.5" fill="#0d3c44"/>
<circle cx="407.4" cy="837.9" r="1.5" fill="#0d3c44"/>
<circle cx="418.2" cy="837.9" r="1.5" fill="#0d3c44"/>
<line x1="453.5" y1="837.3" x2="503.1" y2="837.3" stroke="#5fb8c2" stroke-width="1.6"/>
<path d="M519,853 Q556,866 591,860 L591,856 Q556,862 519,849 Z" fill="#3fb0bd"/>
<path d="M531,797.5 Q565,791.5 596,794.5 Q599.5,795.5 599,800 L592,855 Q556,861 518,849.5 Q516,847.5 516.5,844 L526.5,802 Q527.5,798.5 531,797.5 Z" fill="#4cbcc8"/>
<path d="M518.5,850 Q556,862 591.5,856" fill="none" stroke="#d4f1f4" stroke-width="1.3"/>
<text x="547" y="825" font-size="4" fill="#fff" font-family="Liberation Sans">tp-link</text>
<line x1="620.2" y1="837.5" x2="625.0" y2="837.5" stroke="#8ccbd3" stroke-width="1.6"/>
<line x1="628.8" y1="837.5" x2="633.6" y2="837.5" stroke="#8ccbd3" stroke-width="1.6"/>
<line x1="637.4" y1="837.5" x2="642.2" y2="837.5" stroke="#8ccbd3" stroke-width="1.6"/>
<line x1="646.0" y1="837.5" x2="650.8" y2="837.5" stroke="#8ccbd3" stroke-width="1.6"/>
<line x1="654.6" y1="837.5" x2="659.4" y2="837.5" stroke="#8ccbd3" stroke-width="1.6"/>
<line x1="663.2" y1="837.5" x2="668.0" y2="837.5" stroke="#8ccbd3" stroke-width="1.6"/>
<line x1="671.8" y1="837.5" x2="676.6" y2="837.5" stroke="#8ccbd3" stroke-width="1.6"/>
<line x1="680.4" y1="837.5" x2="685.2" y2="837.5" stroke="#8ccbd3" stroke-width="1.6"/>
<defs><linearGradient id="dg" x1="0" y1="0" x2="1" y2="0"><stop offset="0" stop-color="#dedede"/><stop offset="0.35" stop-color="#f6f6f6"/><stop offset="0.8" stop-color="#fbfbfb"/><stop offset="1" stop-color="#e9e9e9"/></linearGradient></defs>
<path d="M716,800.5 Q735,792 754.7,794 Q778,795 796.6,803.8 L789,846.8 Q786,853 776.8,856 L760,866 L735,866 L727,837 Z" fill="url(#dg)"/>
<path d="M716.5,801 Q755,791 796,804" fill="none" stroke="#e9e9e9" stroke-width="1.2"/>
<circle cx="749.5" cy="843" r="26.5" fill="#d5d5d6"/>
<circle cx="749.5" cy="844.5" r="25" fill="#ececec"/>
<circle cx="747.5" cy="847.9" r="21.5" fill="#1d1d1f"/>
<circle cx="747" cy="846.8" r="11" fill="#3a3a3e"/>
<circle cx="747" cy="846.8" r="7" fill="#151517"/>
<circle cx="746" cy="845.5" r="2.6" fill="#5d7f9a"/>
<path d="M727.6,844.5 L734.8,843.5 L735.4,853.6 L728.4,854.6 Z" fill="#e6e6e6"/>
<path d="M759,842.4 L766,843.4 L766.8,853.5 L759.8,852.5 Z" fill="#e6e6e6"/>
<path d="M778,826 Q780,822.5 783,823.5 L782,829 Z" fill="#222"/>
<text x="783.5" y="829.5" font-size="4.2" fill="#333" font-family="Liberation Sans" font-weight="bold">link</text>
</svg>
<div class="w" style="left:291.81px;top:48.7px;transform:scaleX(1.0924)">Simple</div>
<div class="w" style="left:465.91px;top:48.7px;transform:scaleX(1.0870)">and</div>
<div class="w" style="left:565.55px;top:48.7px;transform:scaleX(1.0824)">Fast</div>
<div class="w" style="left:234.80px;top:106.6px;transform:scaleX(1.1022)">Wireless</div>
<div class="w" style="left:450.03px;top:106.6px;transform:scaleX(1.1356)">Connection</div>
<div class="lab" style="left:175.4px;top:759.6px;font-size:16px;letter-spacing:0.15px">Wi-Fi Connection</div>
<div class="lab" style="left:372.3px;top:759.6px;font-size:16px;letter-spacing:0.25px">Wired Connection</div>
<div class="lab" style="left:179.3px;top:876.3px;font-size:16px;letter-spacing:0.1px">NVR</div>
<div class="lab" style="left:340.1px;top:876.3px;font-size:16px;letter-spacing:0.05px">PoE Switch</div>
<div class="lab" style="left:509.5px;top:876.3px;font-size:16px;letter-spacing:0.16px">Access Point</div>
<div class="lab" style="left:711.0px;top:874.6px;font-size:15.5px;letter-spacing:0px">VIGI C440-W</div>
</body></html>
